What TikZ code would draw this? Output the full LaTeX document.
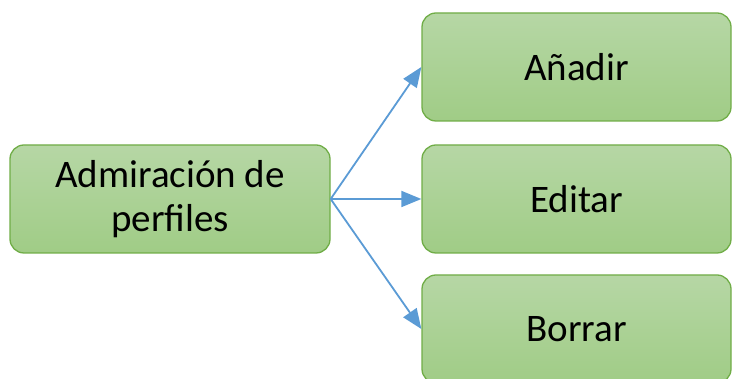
\documentclass[tikz,border=0pt]{standalone}
\usepackage{fontspec}
\setmainfont{Carlito}
\usetikzlibrary{arrows.meta}
\definecolor{boxtop}{RGB}{182,215,165}
\definecolor{boxbot}{RGB}{160,204,134}
\definecolor{boxline}{RGB}{112,173,71}
\definecolor{arrowblue}{RGB}{91,155,213}
\tikzset{
  greenbox/.style={draw=boxline, line width=1.3pt, rounded corners=14pt,
    top color=boxtop, bottom color=boxbot, minimum height=108pt,
    align=center, font=\fontsize{39}{44}\selectfont, text=black, inner sep=0pt},
  link/.style={draw=arrowblue, line width=1.8pt, -{Triangle[length=20pt,width=16pt]}}
}
\begin{document}
\begin{tikzpicture}[x=1pt,y=1pt]
\useasboundingbox (0,0) rectangle (733,379);
\node[greenbox, minimum width=320pt] (src) at (170,180) {Admiración de\\perfiles};
\node[greenbox, minimum width=309pt] (add) at (576.5,312) {Añadir};
\node[greenbox, minimum width=309pt] (edit) at (576.5,180) {Editar};
\node[greenbox, minimum width=309pt] (del) at (576.5,50) {Borrar};
\draw[link] (src.east) -- (add.west);
\draw[link] (src.east) -- (edit.west);
\draw[link] (src.east) -- (del.west);
\end{tikzpicture}
\end{document}
